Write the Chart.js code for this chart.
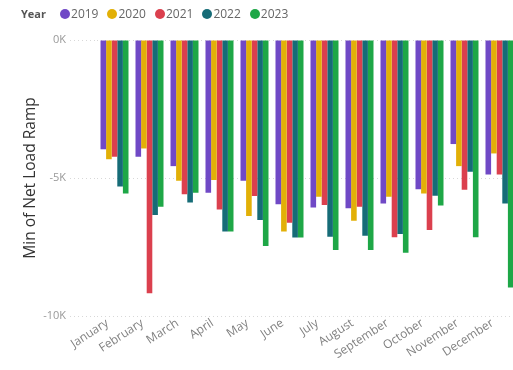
<!DOCTYPE html>
<html>
<head>
<meta charset="utf-8">
<script src="https://cdn.jsdelivr.net/npm/chart.js@4"></script>
<style>
  html, body { margin: 0; padding: 0; background: #fff; overflow: hidden; }
  #wrap { position: relative; width: 520px; height: 370px; }
  #legend { position: absolute; left: 21px; top: 5px; display: flex; align-items: center;
            font-family: "Open Sans", sans-serif; font-size: 12px; color: #666; }
  #legend .title { font-weight: bold; font-size: 11px; color: #555; margin-right: 14px; }
  #legend .item { display: flex; align-items: center; margin-right: 9px; }
  #legend .dot { width: 10px; height: 10px; border-radius: 50%; margin-right: 1px; }
</style>
</head>
<body>
<div id="wrap">
  <div id="legend"></div>
  <canvas id="chart" width="520" height="370"></canvas>
</div>
<script>
var months = ['January','February','March','April','May','June','July','August','September','October','November','December']
var years = ['2019','2020','2021','2022','2023']
var colors = ['#7049C6','#E2B007','#DB404E','#166C77','#1EA747']

var y2019 = [-3960,-4230,-4570,-5530,-5100,-5950,-6070,-6100,-5920,-5410,-3770,-4870]
var y2020 = [-4320,-3930,-5100,-5070,-6380,-6940,-5680,-6550,-5680,-5560,-4570,-4110]
var y2021 = [-4230,-9180,-5590,-6140,-5650,-6620,-5980,-6040,-7150,-6880,-5430,-4870]
var y2022 = [-5310,-6340,-5890,-6940,-6520,-7160,-7130,-7090,-7030,-5640,-4770,-5920]
var y2023 = [-5560,-6040,-5530,-6940,-7460,-7160,-7610,-7610,-7710,-6000,-7150,-8970]

var yTicks = [0, -5000, -10000]

var series = [y2019, y2020, y2021, y2022, y2023]

// legend in html, the "Year" label sits inline like power bi
var legend = document.getElementById('legend')
legend.innerHTML = '<span class="title">Year</span>' + years.map(function (y, i) {
    return '<span class="item"><span class="dot" style="background:' + colors[i] + '"></span>' + y + '</span>'
}).join('')

var datasets = years.map(function (y, i) {
    return {
        label: y,
        data: series[i],
        backgroundColor: colors[i],
        barPercentage: 1,
        categoryPercentage: 0.8
    }
})

var chart = new Chart(document.getElementById('chart'), {
    type: 'bar',
    data: { labels: months, datasets: datasets },
    options: {
        responsive: false,
        animation: false,
        layout: { padding: { top: 40, right: 3, left: 0, bottom: 0 } },
        plugins: {
            legend: { display: false },
            tooltip: { enabled: false }
        },
        scales: {
            x: {
                grid: { display: false, drawTicks: false },
                border: { display: false },
                ticks: {
                    color: '#808080',
                    font: { family: 'Open Sans', size: 12 },
                    maxRotation: 33,
                    minRotation: 33,
                    padding: 0,
                    labelOffset: -7,
                    autoSkip: false
                },
                afterFit: function (scale) { scale.height = 54 }
            },
            y: {
                min: -10000,
                max: 0,
                afterBuildTicks: function (scale) {
                    scale.ticks = yTicks.map(function (v) { return { value: v } })
                },
                grid: {
                    color: '#d8d8d8',
                    tickLength: 27,
                    tickColor: '#d8d8d8',
                    tickBorderDash: [1, 3]
                },
                border: { display: false, dash: [1, 3] },
                ticks: {
                    color: '#999',
                    font: { family: 'Open Sans', size: 11 },
                    padding: 4,
                    callback: function (v) { return (v / 1000) + 'K' }
                },
                title: {
                    display: true,
                    text: 'Min of Net Load Ramp',
                    color: '#333',
                    font: { family: 'Open Sans', size: 15.5 },
                    padding: { top: 21, bottom: 0 }
                },
                afterFit: function (scale) { scale.width = 97 }
            }
        }
    }
})
</script>
</body>
</html>
